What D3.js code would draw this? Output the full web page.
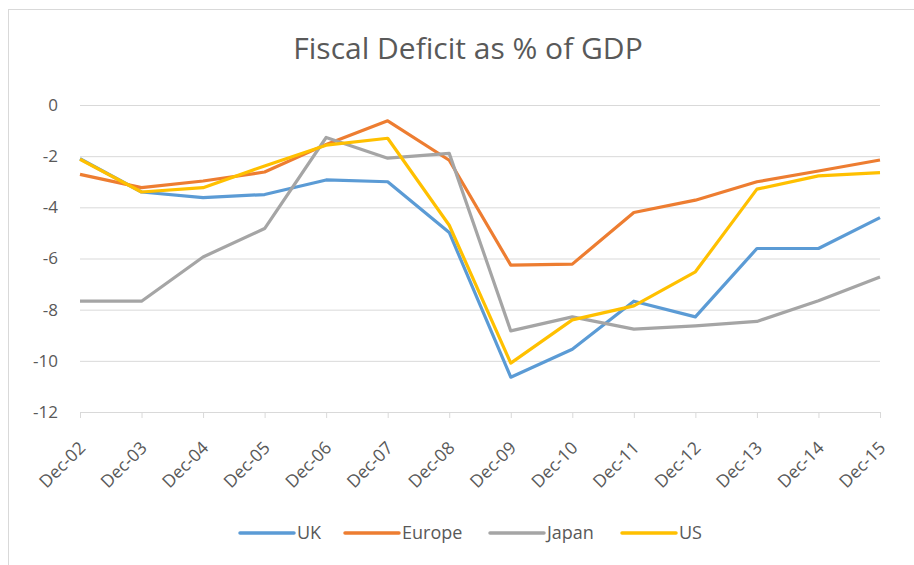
<!DOCTYPE html>
<html>
<head>
<meta charset="utf-8">
<script src="https://cdn.jsdelivr.net/npm/d3@7"></script>
<style>
  body { margin: 0; background: #fff; }
  text { font-family: "Open Sans", "DejaVu Sans", sans-serif; }
</style>
</head>
<body>
<div id="chart"></div>
<script>
// data
const years = ["Dec-02", "Dec-03", "Dec-04", "Dec-05", "Dec-06", "Dec-07", "Dec-08",
               "Dec-09", "Dec-10", "Dec-11", "Dec-12", "Dec-13", "Dec-14", "Dec-15"];
const uk     = [-2.1, -3.4, -3.62, -3.5, -2.93, -3.0, -4.98, -10.64, -9.55, -7.67, -8.28, -5.61, -5.61, -4.4];
const europe = [-2.71, -3.23, -2.97, -2.62, -1.54, -0.62, -2.16, -6.26, -6.22, -4.2, -3.72, -3.0, -2.58, -2.15];
const japan  = [-7.67, -7.67, -5.94, -4.83, -1.27, -2.08, -1.89, -8.83, -8.28, -8.76, -8.63, -8.46, -7.65, -6.72];
const us     = [-2.12, -3.4, -3.23, -2.38, -1.57, -1.3, -4.7, -10.09, -8.4, -7.85, -6.52, -3.29, -2.77, -2.64];
const yTicks = [0, -2, -4, -6, -8, -10, -12];

const seriesNames = ["UK", "Europe", "Japan", "US"];
const seriesValues = [uk, europe, japan, us];
const seriesColors = ["#5B9BD5", "#ED7D31", "#A5A5A5", "#FFC000"];

const width = 914, height = 565;
const plot = {left: 80, right: 880, top: 105, bottom: 412};
const TEXT_COLOR = "#595959";
const GRID_COLOR = "#D9D9D9";

const svg = d3.select("#chart").append("svg")
    .attr("width", width)
    .attr("height", height);

// chart frame (only top/left edge visible in the crop)
svg.append("rect")
    .attr("x", 8.5).attr("y", 9.5)
    .attr("width", 940).attr("height", 600)
    .attr("fill", "#fff")
    .attr("stroke", GRID_COLOR);

svg.append("text")
    .attr("x", 468).attr("y", 59)
    .attr("text-anchor", "middle")
    .style("font-size", "30px")
    .style("fill", TEXT_COLOR)
    .text("Fiscal Deficit as % of GDP");

let x = d3.scalePoint()
    .domain(years)
    .range([plot.left, plot.right]);
let y = d3.scaleLinear()
    .domain([-12, 0])
    .range([plot.bottom, plot.top]);

// gridlines + y labels
let yAxis = svg.append("g")
    .attr("transform", `translate(${plot.left}, 0)`)
    .call(d3.axisLeft(y).tickValues(yTicks)
        .tickFormat(d => String(d))
        .tickSize(-(plot.right - plot.left)).tickPadding(22));
yAxis.select(".domain").remove();
yAxis.selectAll(".tick line").attr("stroke", GRID_COLOR);
yAxis.selectAll(".tick text")
    .style("font-size", "17px")
    .style("fill", TEXT_COLOR);

// bottom axis
let xAxis = svg.append("g")
    .attr("transform", `translate(0, ${plot.bottom})`)
    .call(d3.axisBottom(x).tickSize(6));
xAxis.select(".domain").attr("stroke", GRID_COLOR).attr("d", `M${plot.left},0.5H${plot.right}`);
xAxis.selectAll(".tick line").attr("stroke", GRID_COLOR);
xAxis.selectAll(".tick text")
    .style("font-size", "17.5px")
    .style("fill", TEXT_COLOR)
    .attr("text-anchor", "end")
    .attr("x", 0).attr("y", 0).attr("dy", 0)
    .attr("transform", "translate(6, 37) rotate(-45)");

// lines
let line = d3.line()
    .x((d, i) => x(years[i]))
    .y(d => y(d));

seriesValues.forEach(function(vals, k) {
    svg.append("path")
        .datum(vals)
        .attr("fill", "none")
        .attr("stroke", seriesColors[k])
        .attr("stroke-width", 3.2)
        .attr("stroke-linejoin", "round")
        .attr("d", line);
});

// legend
const legendX = [240, 345, 490, 622];
let legend = svg.append("g");
seriesNames.forEach(function(name, k) {
    let g = legend.append("g").attr("transform", `translate(${legendX[k]}, 533)`);
    g.append("line")
        .attr("x1", 0).attr("x2", 54)
        .attr("stroke", seriesColors[k])
        .attr("stroke-width", 3.5)
        .attr("stroke-linecap", "round");
    g.append("text")
        .attr("x", 57).attr("dy", "0.35em")
        .style("font-size", "18px")
        .style("fill", TEXT_COLOR)
        .text(name);
});
</script>
</body>
</html>
